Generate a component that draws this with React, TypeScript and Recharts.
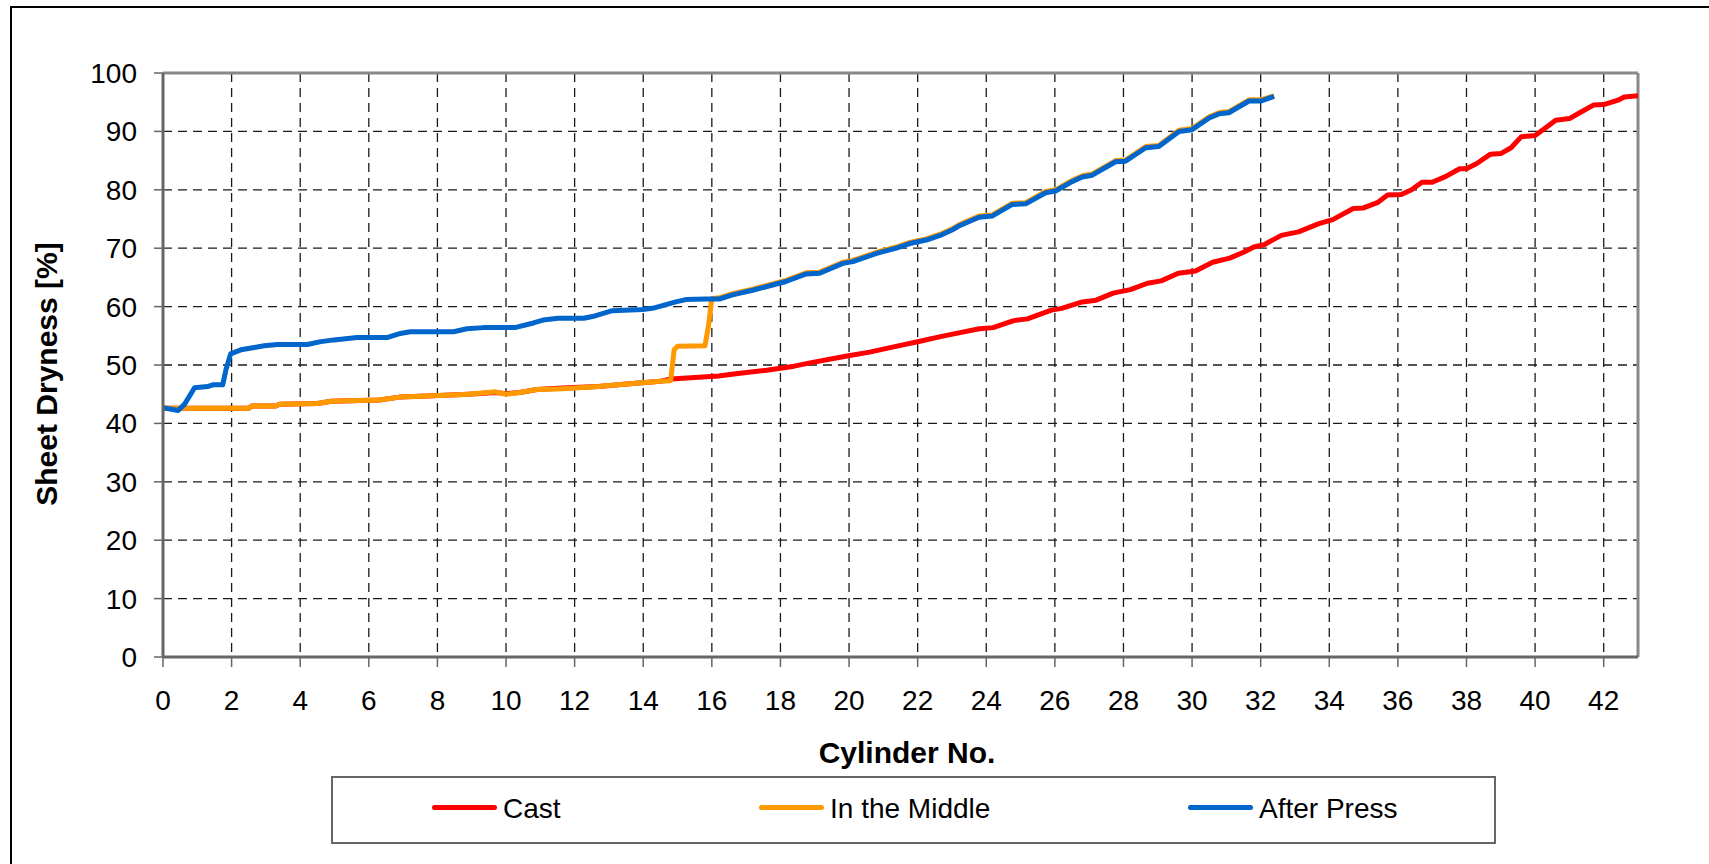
import React from "react";
import { LineChart, Line, XAxis, YAxis, CartesianGrid, ReferenceLine } from "recharts";

type Pt = [number, number]; // [cylinder no., sheet dryness %]

// Cast (red) – runs under "In the Middle" until ~14.8
const cast: Pt[] = [
  [0, 42.6], [2.5, 42.6], [2.6, 43.0], [3.3, 43.0], [3.4, 43.3], [4.5, 43.4], [4.9, 43.8],
  [6.3, 44.0], [6.9, 44.5], [7.7, 44.7], [8.9, 45.0], [9.7, 45.3], [10.0, 45.1], [10.4, 45.3],
  [10.9, 45.8], [11.8, 46.1], [12.7, 46.3], [13.6, 46.8], [14.5, 47.2], [14.8, 47.6],
  [16.2, 48.1], [16.7, 48.5], [17.6, 49.1], [18.4, 49.8], [18.9, 50.4], [19.9, 51.5],
  [20.6, 52.2], [21.3, 53.1], [22.1, 54.1], [22.7, 54.9], [23.2, 55.5], [23.8, 56.2],
  [24.2, 56.4], [24.8, 57.6], [25.2, 57.9], [25.9, 59.4], [26.2, 59.7], [26.8, 60.8],
  [27.2, 61.1], [27.7, 62.3], [28.2, 62.9], [28.7, 64.0], [29.1, 64.4], [29.6, 65.7],
  [30.1, 66.1], [30.6, 67.6], [31.1, 68.3], [31.5, 69.3], [31.8, 70.2], [32.1, 70.6],
  [32.6, 72.2], [33.1, 72.8], [33.7, 74.2], [34.1, 74.9], [34.7, 76.8], [35.0, 76.9],
  [35.4, 77.8], [35.7, 79.1], [36.1, 79.2], [36.4, 80.0], [36.7, 81.3], [37.0, 81.3],
  [37.4, 82.3], [37.8, 83.6], [38.0, 83.6], [38.3, 84.5], [38.7, 86.1], [39.0, 86.2],
  [39.3, 87.2], [39.6, 89.1], [40.0, 89.3], [40.3, 90.6], [40.6, 91.9], [41.0, 92.2],
  [41.3, 93.2], [41.7, 94.5], [42.0, 94.6], [42.4, 95.3], [42.6, 95.9], [43.0, 96.1],
];

// In the Middle (orange) – jumps at ~15, then sits just under "After Press"
const middle: Pt[] = [
  [0, 42.6], [2.5, 42.6], [2.6, 43.0], [3.3, 43.0], [3.4, 43.3], [4.5, 43.4], [4.9, 43.8],
  [6.3, 44.0], [6.9, 44.5], [7.7, 44.7], [8.9, 45.0], [9.7, 45.4], [10.0, 45.0], [10.4, 45.3],
  [10.9, 45.8], [11.5, 45.9], [11.9, 46.0], [12.7, 46.3], [13.6, 46.8], [14.5, 47.2],
  [14.8, 47.3], [14.9, 52.6], [15.0, 53.2], [15.8, 53.3], [15.9, 56.6], [16.0, 61.4],
  [16.22, 61.5], [16.6, 62.2], [17.19, 63.0], [17.58, 63.6], [18.16, 64.5], [18.75, 65.8],
  [19.14, 65.9], [19.82, 67.6], [20.11, 67.9], [20.8, 69.3], [21.38, 70.2], [21.77, 71.0],
  [22.25, 71.6], [22.7, 72.5], [23.0, 73.3], [23.2, 74.0], [23.79, 75.5], [24.17, 75.7],
  [24.76, 77.7], [25.15, 77.8], [25.73, 79.7], [26.02, 80.0], [26.5, 81.6], [26.8, 82.4],
  [27.09, 82.7], [27.77, 85.0], [28.06, 85.1], [28.65, 87.4], [29.03, 87.6], [29.62, 90.2],
  [30.0, 90.5], [30.5, 92.5], [30.78, 93.2], [31.07, 93.4], [31.66, 95.4], [32.0, 95.4],
  [32.39, 96.1],
];

// After Press (blue)
const afterPress: Pt[] = [
  [0, 42.7], [0.44, 42.2], [0.63, 43.3], [0.92, 46.1], [1.3, 46.3], [1.45, 46.6], [1.74, 46.6],
  [1.84, 49.3], [1.97, 51.9], [2.27, 52.6], [2.66, 53.0], [2.95, 53.3], [3.34, 53.5],
  [4.21, 53.5], [4.6, 54.0], [4.98, 54.3], [5.66, 54.7], [6.53, 54.7], [6.92, 55.4],
  [7.21, 55.7], [8.47, 55.7], [8.86, 56.2], [9.34, 56.4], [10.26, 56.4], [10.8, 57.2],
  [11.08, 57.7], [11.52, 58.0], [12.27, 58.0], [12.52, 58.3], [13.1, 59.3], [13.98, 59.5],
  [14.27, 59.7], [14.95, 60.8], [15.24, 61.2], [15.83, 61.3], [16.22, 61.3], [16.6, 62.0],
  [17.19, 62.8], [17.58, 63.4], [18.16, 64.3], [18.75, 65.6], [19.14, 65.7], [19.82, 67.4],
  [20.11, 67.7], [20.8, 69.1], [21.38, 70.0], [21.77, 70.8], [22.25, 71.4], [22.7, 72.3],
  [23.0, 73.1], [23.2, 73.8], [23.79, 75.3], [24.17, 75.5], [24.76, 77.5], [25.15, 77.6],
  [25.73, 79.5], [26.02, 79.8], [26.5, 81.4], [26.8, 82.2], [27.09, 82.5], [27.77, 84.8],
  [28.06, 84.9], [28.65, 87.2], [29.03, 87.4], [29.62, 90.0], [30.0, 90.3], [30.5, 92.3],
  [30.78, 93.0], [31.07, 93.2], [31.66, 95.2], [32.0, 95.2], [32.39, 96.0],
];

const xTicks = [0, 2, 4, 6, 8, 10, 12, 14, 16, 18, 20, 22, 24, 26, 28, 30, 32, 34, 36, 38, 40, 42];
const yTicks = [0, 10, 20, 30, 40, 50, 60, 70, 80, 90, 100];

const RED = "#FF0000";
const ORANGE = "#FF9900";
const BLUE = "#0066CC";

const legend = [
  { name: "Cast", color: RED, left: 432 },
  { name: "In the Middle", color: ORANGE, left: 759 },
  { name: "After Press", color: BLUE, left: 1188 },
];

const FONT = '"Liberation Sans", Arial, Helvetica, sans-serif';

const rows = (pts: Pt[]) => pts.map(([x, y]) => ({ x, y }));

export default function App() {
  const tickStyle = { fill: "#000", fontSize: 28, fontFamily: FONT };

  return (
    <div
      style={{
        position: "absolute",
        left: 0,
        top: 0,
        width: 1709,
        height: 864,
        overflow: "hidden",
        background: "#fff",
        fontFamily: FONT,
      }}
    >
      {/* outer chart frame (runs off the right/bottom edge) */}
      <div
        style={{
          position: "absolute",
          left: 10,
          top: 6,
          width: 1800,
          height: 1000,
          border: "2px solid #000",
          boxSizing: "border-box",
        }}
      />

      <div style={{ position: "absolute", left: 0, top: 0 }}>
        <LineChart
          width={1709}
          height={864}
          margin={{ top: 73, right: 71, bottom: 147, left: 83 }}
        >
          <CartesianGrid stroke="#1a1a1a" strokeWidth={1.3} strokeDasharray="9 6" />
          <XAxis
            type="number"
            dataKey="x"
            domain={[0, 43]}
            ticks={xTicks}
            interval={0}
            allowDataOverflow
            height={60}
            tick={tickStyle}
            tickSize={10}
            tickMargin={23}
            axisLine={{ stroke: "#666", strokeWidth: 3 }}
            tickLine={{ stroke: "#666", strokeWidth: 1.5 }}
          />
          <YAxis
            type="number"
            domain={[0, 100]}
            ticks={yTicks}
            interval={0}
            allowDataOverflow
            width={80}
            tick={tickStyle}
            tickSize={9}
            tickMargin={17}
            axisLine={{ stroke: "#666", strokeWidth: 3 }}
            tickLine={{ stroke: "#666", strokeWidth: 1.5 }}
          />
          <ReferenceLine y={100} stroke="#888" strokeWidth={3} />
          <ReferenceLine x={43} stroke="#888" strokeWidth={3} />

          <Line
            name="Cast"
            data={rows(cast)}
            dataKey="y"
            type="linear"
            stroke={RED}
            strokeWidth={5}
            strokeLinejoin="round"
            dot={false}
            activeDot={false}
            isAnimationActive={false}
          />
          <Line
            name="In the Middle"
            data={rows(middle)}
            dataKey="y"
            type="linear"
            stroke={ORANGE}
            strokeWidth={5}
            strokeLinejoin="round"
            dot={false}
            activeDot={false}
            isAnimationActive={false}
          />
          <Line
            name="After Press"
            data={rows(afterPress)}
            dataKey="y"
            type="linear"
            stroke={BLUE}
            strokeWidth={5}
            strokeLinejoin="round"
            dot={false}
            activeDot={false}
            isAnimationActive={false}
          />
        </LineChart>
      </div>

      {/* axis titles */}
      <div
        style={{
          position: "absolute",
          left: 47,
          top: 374,
          transform: "translate(-50%, -50%) rotate(-90deg)",
          whiteSpace: "nowrap",
          fontSize: 30,
          fontWeight: 700,
          color: "#000",
        }}
      >
        Sheet Dryness [%]
      </div>
      <div
        style={{
          position: "absolute",
          left: 907,
          top: 738,
          transform: "translateX(-50%)",
          whiteSpace: "nowrap",
          fontSize: 30,
          lineHeight: "30px",
          fontWeight: 700,
          color: "#000",
        }}
      >
        Cylinder No.
      </div>

      {/* legend */}
      <div
        style={{
          position: "absolute",
          left: 331,
          top: 776,
          width: 1165,
          height: 68,
          border: "2px solid #666",
          boxSizing: "border-box",
        }}
      />
      {legend.map((l) => (
        <React.Fragment key={l.name}>
          <div
            style={{
              position: "absolute",
              left: l.left,
              top: 805,
              width: 65,
              height: 5,
              borderRadius: 3,
              background: l.color,
            }}
          />
          <div
            style={{
              position: "absolute",
              left: l.left + 71,
              top: 795,
              fontSize: 28,
              lineHeight: "28px",
              whiteSpace: "nowrap",
              color: "#000",
            }}
          >
            {l.name}
          </div>
        </React.Fragment>
      ))}
    </div>
  );
}
